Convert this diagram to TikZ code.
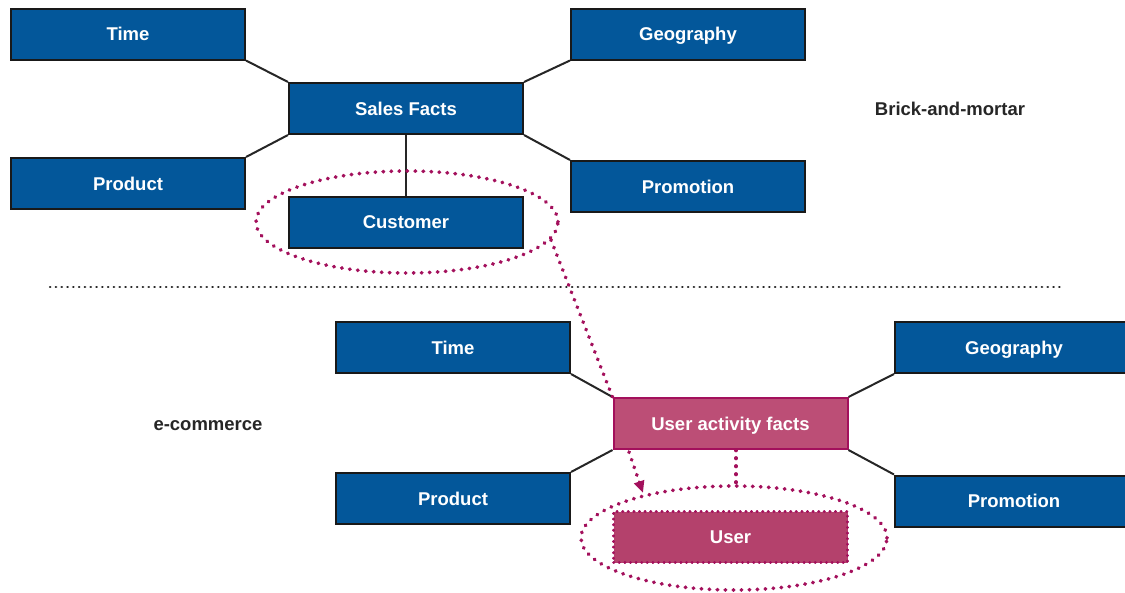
\documentclass[tikz,border=0pt]{standalone}
\usepackage{fontspec}
\setmainfont{Liberation Sans}
\usetikzlibrary{arrows.meta,shapes.geometric}
\definecolor{dimblue}{HTML}{03579A}
\definecolor{factpink}{HTML}{BC4E76}
\definecolor{userpink}{HTML}{B4416C}
\definecolor{dotmag}{HTML}{A3105C}
\begin{document}
\begin{tikzpicture}[x=1pt,y=-1pt,
  dimbox/.style={draw=black!90,line width=2pt,fill=dimblue,text=white,
    minimum width=234pt,minimum height=51pt,inner sep=0pt,
    text height=15pt,text depth=2pt,
    font=\fontsize{18.5}{22}\selectfont\bfseries},
  factbox/.style={dimbox,draw=dotmag,fill=factpink},
  userbox/.style={dimbox,fill=userpink,draw=dotmag,line width=2.8pt,line cap=round,dash pattern=on 0.4pt off 5.2pt},
  link/.style={draw=black!85,line width=2pt},
  dotline/.style={draw=dotmag,line width=3.8pt,line cap=round,dash pattern=on 0.4pt off 7.6pt},
  lbl/.style={font=\fontsize{18.5}{22}\selectfont\bfseries,text=black!85}
]
\useasboundingbox (0,0) rectangle (1125,592);
% top schema
\node[dimbox] (t1) at (128,34) {Time};
\node[dimbox] (g1) at (688,34) {Geography};
\node[dimbox] (sf) at (406,108.5) {Sales Facts};
\node[dimbox] (p1) at (128,183.5) {Product};
\node[dimbox] (pr1) at (688,186.5) {Promotion};
\node[dimbox] (cu) at (406,222) {Customer};
\draw[link] (t1.south east) -- (sf.north west);
\draw[link] (g1.south west) -- (sf.north east);
\draw[link] (p1.north east) -- (sf.south west);
\draw[link] (pr1.north west) -- (sf.south east);
\draw[link] (sf.south) -- (cu.north);
\node[dotline,ellipse,minimum width=302pt,minimum height=102pt,inner sep=0pt] (ce) at (407,222) {};
\node[lbl] (bm) at (950,109) {Brick-and-mortar};
% separator
\coordinate (s1) at (50,287);
\coordinate (s2) at (1060,287);
\draw[black!85,line width=2.5pt,line cap=round,dash pattern=on 0.3pt off 5.5pt] (s1) -- (s2);
% bottom schema
\node[dimbox] (t2) at (453,347.5) {Time};
\node[dimbox,minimum width=238pt] (g2) at (1014,347.5) {Geography};
\node[factbox] (uaf) at (730.5,423.5) {User activity facts};
\node[dimbox] (p2) at (453,498.5) {Product};
\node[dimbox,minimum width=238pt] (pr2) at (1014,501) {Promotion};
\draw[link] (t2.south east) -- (uaf.north west);
\draw[link] (g2.south west) -- (uaf.north east);
\draw[link] (p2.north east) -- (uaf.south west);
\draw[link] (pr2.north west) -- (uaf.south east);
\node[userbox] (us) at (730.5,537) {User};
\node[dotline,ellipse,minimum width=306pt,minimum height=104pt,inner sep=0pt] (ue) at (734,538) {};
\node[lbl] (ec) at (208,426) {e-commerce};
% dotted connectors
\coordinate (cstart) at (551,240);
\draw[dotline] (cstart) -- (uaf.north west);
\coordinate (astart) at (629,452);
\coordinate (aend) at (643,493);
\draw[dotline,-{Triangle[length=12pt,width=10pt]}] (astart) -- (aend);
\draw[dotline] (uaf.south -| 736,0) -- (ue.north -| 736,0);
\end{tikzpicture}
\end{document}
